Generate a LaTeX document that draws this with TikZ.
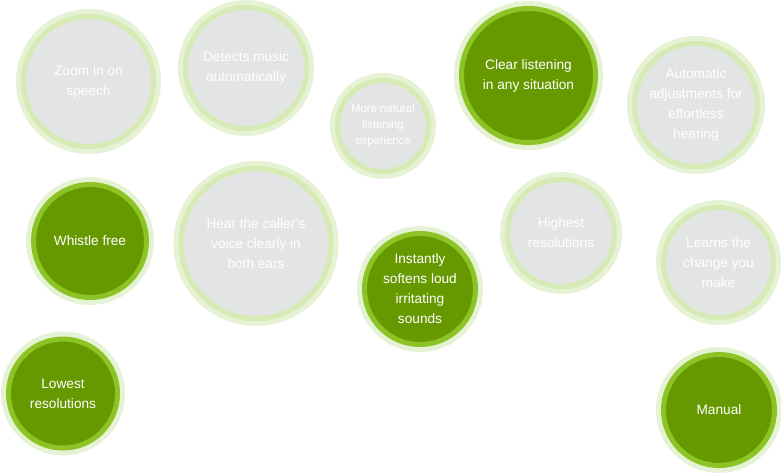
\documentclass[tikz,border=0pt]{standalone}
\usepackage{fontspec}
\setmainfont{Liberation Sans}

\definecolor{palering}{RGB}{229,242,212}
\definecolor{softring}{RGB}{214,234,182}
\definecolor{softfill}{RGB}{227,229,228}
\definecolor{brightring}{RGB}{140,196,37}
\definecolor{leaffill}{RGB}{102,153,0}

\tikzset{every picture/.style={line width=0.75pt}}
\tikzset{
  bubble/.style={circle, inner sep=0pt, outer sep=0pt, align=center, text=white,
    minimum size={(2*#1-15)*0.75pt}, line width=3.75pt,
    preaction={draw=palering, line width=11.25pt},
    font=\fontsize{10.25}{15}\selectfont},
  softbubble/.style={bubble=#1, fill=softfill, draw=softring},
  leafbubble/.style={bubble=#1, fill=leaffill, draw=brightring},
}

\begin{document}
\begin{tikzpicture}[x=0.75pt,y=0.75pt,yscale=-1,xscale=1]
	%uncomment if require: \path (0,472); %set diagram left start at 0, and has height of 472
	\useasboundingbox (0,0) rectangle (781,472);

	%Shape: Circle [top row]
	\draw (88.5,81.5) node [softbubble=72.5] (zoom) {Zoom in on\\speech};
	\draw (246,68) node [softbubble=68] (music) {Detects music\\automatically};
	\draw (383,126) node [softbubble=53, font=\fontsize{8.5}{12}\selectfont] (natural) {More natural\\listening\\experience};
	\draw (528.5,75.5) node [leafbubble=74.5] (clear) {Clear listening\\in any situation};
	\draw (696,105) node [softbubble=69] (adjust) {Automatic\\adjustments for\\effortless\\hearing};

	%Shape: Circle [middle row]
	\draw (90,241) node [leafbubble=64] (whistle) {Whistle free};
	\draw (256,243.5) node [softbubble=82.5] (caller) {Hear the caller’s\\voice clearly in\\both ears};
	\draw (420,289) node [leafbubble=63] (softens) {Instantly\\softens loud\\irritating\\sounds};
	\draw (561,233) node [softbubble=61] (highest) {Highest\\resolutions};
	\draw (718.5,262.5) node [softbubble=62.5] (learns) {Learns the\\change you\\make};

	%Shape: Circle [bottom row]
	\draw (63,393.5) node [leafbubble=62] (lowest) {Lowest\\resolutions};
	\draw (719,410) node [leafbubble=63] (manual) {Manual};

\end{tikzpicture}
\end{document}
